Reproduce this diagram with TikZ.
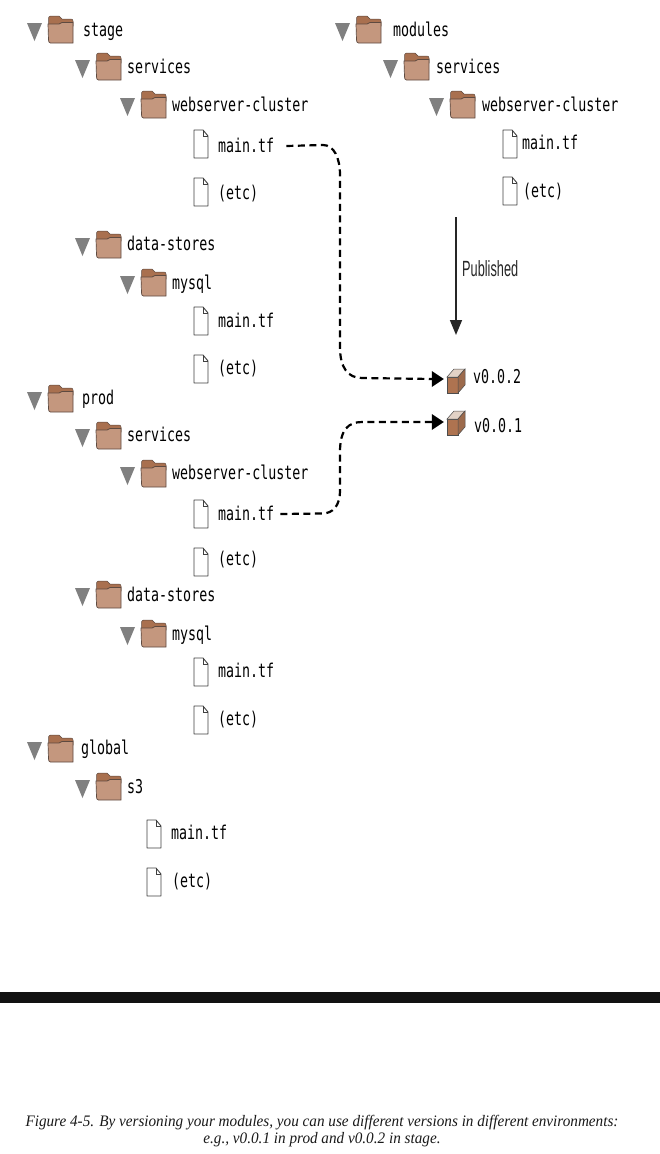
\documentclass[tikz,border=0pt]{standalone}
\usepackage{fontspec}
\usetikzlibrary{arrows.meta}
\setmainfont[FakeStretch=0.95]{Liberation Serif}
\newfontfamily\treefont[FakeStretch=0.70]{DejaVu Sans Mono}
\newfontfamily\pubfont[FakeStretch=0.58]{Liberation Sans}
\definecolor{folderbody}{HTML}{C4977E}
\definecolor{foldertab}{HTML}{A9704F}
\definecolor{folderedge}{HTML}{5E4A40}
\definecolor{tricol}{HTML}{808080}
\definecolor{cubefront}{HTML}{AE7350}
\definecolor{cubetop}{HTML}{E2D2C6}
\definecolor{cubeside}{HTML}{9C6A4C}
\tikzset{
  treelabel/.style={font=\treefont\fontsize{19}{19}\selectfont, anchor=west, inner sep=0pt, text=black, text height=13pt, text depth=1pt},
  dashlink/.style={draw=black, line width=2.2pt, dash pattern=on 7pt off 4.5pt},
}
% \fold{name}{x}{top}{label x}{label y}{text}
\newcommand{\fold}[6]{%
  \fill[tricol] (#2-21,#3+7) -- (#2-6,#3+7) -- (#2-13.5,#3+25) -- cycle;
  \fill[foldertab,draw=folderedge,line width=.5pt] (#2+.5,#3+10) -- (#2+.5,#3+2) to[out=90,in=180] (#2+3,#3) -- (#2+11,#3) -- (#2+14,#3+3) -- (#2+23,#3+3) to[out=0,in=90] (#2+25,#3+5) -- (#2+25,#3+10) -- cycle;
  \fill[folderbody,draw=folderedge,line width=.7pt] (#2+.5,#3+24) -- (#2,#3+8) -- (#2+11,#3+8) -- (#2+14,#3+6.5) -- (#2+25,#3+6.5) -- (#2+25,#3+27) -- (#2+2.5,#3+27) to[out=180,in=-90] cycle;
  \node[treelabel] (#1) at (#4,#5) {#6};
}
% \filei{name}{x}{top}{label x}{label y}{text}
\newcommand{\filei}[6]{%
  \draw[draw=black!75,fill=white,line width=.9pt,line join=round] (#2,#3) -- (#2+9,#3) -- (#2+14,#3+6) -- (#2+14,#3+28) -- (#2,#3+28) -- cycle;
  \draw[draw=black!75,line width=.7pt] (#2+9,#3) -- (#2+9,#3+6) -- (#2+14,#3+6);
  \node[treelabel] (#1) at (#4,#5) {#6};
}
% \cubeicon{name}{x}{top}{label x}{label y}{text}
\newcommand{\cubeicon}[6]{%
  \fill[cubefront,draw=black!70,line width=.5pt] (#2,#3+8) -- (#2+11,#3+8) -- (#2+11,#3+24) -- (#2,#3+24) -- cycle;
  \fill[cubetop,draw=black!70,line width=.5pt] (#2,#3+8) -- (#2+7,#3) -- (#2+18,#3) -- (#2+11,#3+8) -- cycle;
  \fill[cubeside,draw=black!70,line width=.5pt] (#2+11,#3+8) -- (#2+18,#3) -- (#2+18,#3+16) -- (#2+11,#3+24) -- cycle;
  \node[inner sep=0pt,minimum width=18pt,minimum height=24pt] (#1box) at (#2+9,#3+12) {};
  \node[treelabel] (#1) at (#4,#5) {#6};
}
\begin{document}
\begin{tikzpicture}[x=1pt,y=-1pt]
\useasboundingbox (0,0) rectangle (660,1154);
% stage
\fold{stage}{48}{16}{83}{30}{stage}
\fold{stsvc}{96}{53}{127}{67}{services}
\fold{stweb}{141}{91}{172}{105}{webserver-cluster}
\filei{stmain}{194}{130}{218}{146}{main.tf}
\filei{stetc}{194}{178}{218}{193}{(etc)}
\fold{stds}{96}{231}{127}{244}{data-stores}
\fold{stsql}{141}{269}{172}{283}{mysql}
\filei{stsqlmain}{194}{307}{218}{321}{main.tf}
\filei{stsqletc}{194}{355}{218}{368}{(etc)}
% prod
\fold{prod}{48}{385}{82}{398}{prod}
\fold{prsvc}{96}{422}{127}{435}{services}
\fold{prweb}{141}{460}{172}{473}{webserver-cluster}
\filei{prmain}{194}{500}{218}{514}{main.tf}
\filei{pretc}{194}{548}{218}{559}{(etc)}
\fold{prds}{96}{581}{127}{595}{data-stores}
\fold{prsql}{141}{620}{172}{634}{mysql}
\filei{prsqlmain}{194}{658}{218}{671}{main.tf}
\filei{prsqletc}{194}{706}{218}{719}{(etc)}
% global
\fold{glob}{48}{735}{81}{748}{global}
\fold{gls}{96}{773}{127}{787}{s3}
\filei{glmain}{147}{820}{171}{833}{main.tf}
\filei{gletc}{147}{868}{172}{881}{(etc)}
% modules
\fold{mod}{356}{16}{393}{30}{modules}
\fold{modsvc}{404}{53}{436}{67}{services}
\fold{modweb}{450}{91}{482}{105}{webserver-cluster}
\filei{modmain}{503}{130}{522}{143}{main.tf}
\filei{modetc}{503}{177}{523}{191}{(etc)}
% published
\coordinate (pubstart) at (456,217);
\coordinate (pubend) at (456,335);
\draw[draw=black!85,line width=1.6pt,-{Triangle[length=15pt,width=12pt]},black!85] (pubstart) -- (pubend);
\node[font=\pubfont\fontsize{22}{22}\selectfont,anchor=west,inner sep=0pt,text=black!85] (pub) at (462,269) {Published};
% versions
\cubeicon{vb}{447}{369}{473}{377}{v0.0.2}
\cubeicon{va}{447}{411}{474}{426}{v0.0.1}
% dashed links
\draw[dashlink] ([xshift=12pt]stmain.east) -- (323,145) .. controls (334,145) and (340,158) .. (340,175) -- (340,347) .. controls (340,368) and (348,378) .. (362,378) -- ([xshift=-14pt,yshift=2pt]vbbox.west);
\fill[black] ([xshift=-15pt,yshift=-6pt]vbbox.west) -- ([xshift=-3pt,yshift=2pt]vbbox.west) -- ([xshift=-15pt,yshift=10pt]vbbox.west) -- cycle;
\draw[dashlink] ([xshift=6pt]prmain.east) -- (322,513.5) .. controls (333,513.5) and (340,506) .. (340,490) -- (340,452) .. controls (340,430) and (348,422) .. (362,422) -- ([xshift=-14pt,yshift=1pt]vabox.west);
\fill[black] ([xshift=-15pt,yshift=-7pt]vabox.west) -- ([xshift=-3pt,yshift=1pt]vabox.west) -- ([xshift=-15pt,yshift=9pt]vabox.west) -- cycle;
% bar
\fill[black!93] (0,992) rectangle (660,1003);
% caption
\node[font=\itshape\fontsize{16}{17}\selectfont,inner sep=0pt,align=center,text=black!90] (cap) at (322,1131) {Figure 4-5. By versioning your modules, you can use different versions in different environments:\\e.g., v0.0.1 in prod and v0.0.2 in stage.};
\end{tikzpicture}
\end{document}
